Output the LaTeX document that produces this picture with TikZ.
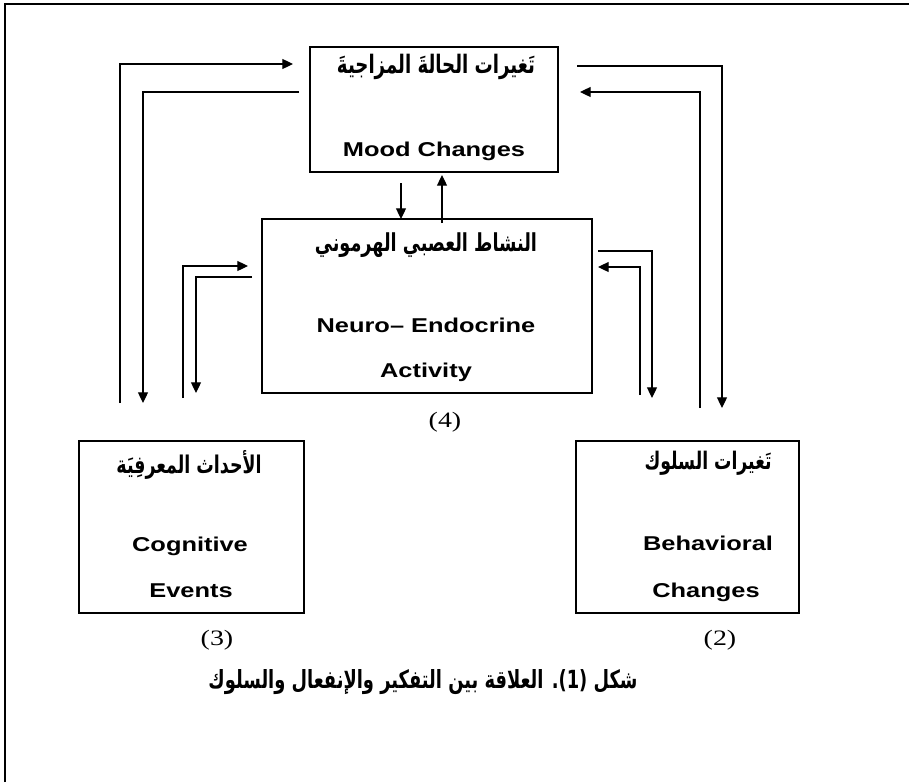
\documentclass[tikz,border=0pt]{standalone}
\usepackage{fontspec}
\usetikzlibrary{arrows.meta}
\TeXXeTstate=1
\setmainfont{Liberation Serif}
\newfontfamily\latinb[FakeStretch=1.27]{Liberation Sans}
\newfontfamily\numf[FakeStretch=1.27]{Liberation Serif}
\newfontfamily\arabicfont[Script=Arabic]{DejaVu Sans}
\newcommand\artxt[2]{\scalebox{1}[1.4]{\resizebox{#1}{!}{\arabicfont\bfseries #2}}}
\begin{document}
\begin{tikzpicture}[x=0.75pt,y=-0.75pt,
  box/.style={draw,line width=1pt,inner sep=0pt,rectangle},
  link/.style={line width=0.9pt},
  arr/.style={link,-{Triangle[length=8pt,width=7.5pt]}},
  lat/.style={font=\latinb\fontsize{15pt}{18pt}\selectfont\bfseries,anchor=base,inner sep=0pt},
  ar/.style={inner sep=0pt,anchor=center},
  num/.style={font=\numf\fontsize{16.5pt}{19pt}\selectfont,inner sep=0pt,anchor=center}]
\useasboundingbox (0,0) rectangle (909,782);
% outer frame (top and left)
\draw[line width=1.5pt] (5,782) -- (5,4) -- (909,4);
% boxes
\node[box,minimum width=186pt,minimum height=93.75pt] (mood) at (434,109.5) {};
\node[box,minimum width=247.5pt,minimum height=130.5pt] (neuro) at (427,306) {};
\node[box,minimum width=168.75pt,minimum height=129pt] (cog) at (191.5,527) {};
\node[box,minimum width=167.25pt,minimum height=129pt] (beh) at (687.5,527) {};
% texts
\node[ar] (moodA) at (436,67) {\artxt{148.5pt}{\beginR تَغيرات الحالةَ المزاجيةَ\endR}};
\node[lat] (moodE) at (434,156) {Mood Changes};
\node[ar] (neuroA) at (426,245) {\artxt{166.5pt}{\beginR النشاط العصبي الهرموني\endR}};
\node[lat] (neuroE1) at (426,332) {Neuro– Endocrine};
\node[lat] (neuroE2) at (426,377) {Activity};
\node[ar] (cogA) at (189,465) {\artxt{108.75pt}{\beginR الأحداث المعرفِيَة\endR}};
\node[lat] (cogE1) at (190,551) {Cognitive};
\node[lat] (cogE2) at (191,597) {Events};
\node[ar] (behA) at (708,463) {\artxt{95.25pt}{\beginR تَغيرات السلوك\endR}};
\node[lat] (behE1) at (708,550) {Behavioral};
\node[lat] (behE2) at (706,597) {Changes};
\node[num] (n4) at (445,422) {(4)};
\node[num] (n3) at (217,640) {(3)};
\node[num] (n2) at (720,640) {(2)};
\node[ar] (cap) at (423,682) {\artxt{321.75pt}{\beginR شكل \beginL(1).\endL{} العلاقة بين التفكير والإنفعال والسلوك\endR}};
% connector end points
\coordinate (a1) at (120,403); \coordinate (a2) at (293,64);
\coordinate (b1) at (299,92);  \coordinate (b2) at (143,403);
\coordinate (c1) at (183,398); \coordinate (c2) at (248,266);
\coordinate (d1) at (252,277); \coordinate (d2) at (196,393);
\coordinate (e1) at (598,251); \coordinate (e2) at (652,398);
\coordinate (f1) at (640,395); \coordinate (f2) at (598,267);
\coordinate (g1) at (577,66);  \coordinate (g2) at (722,408);
\coordinate (h1) at (700,408); \coordinate (h2) at (580,92);
\coordinate (i1) at (401,183); \coordinate (i2) at (401,219);
\coordinate (j1) at (442,223); \coordinate (j2) at (442,175);
% connectors
\draw[arr] (a1) |- (a2);
\draw[arr] (b1) -| (b2);
\draw[arr] (c1) |- (c2);
\draw[arr] (d1) -| (d2);
\draw[arr] (e1) -| (e2);
\draw[arr] (f1) |- (f2);
\draw[arr] (g1) -| (g2);
\draw[arr] (h1) |- (h2);
\draw[arr] (i1) -- (i2);
\draw[arr] (j1) -- (j2);
\end{tikzpicture}
\end{document}
